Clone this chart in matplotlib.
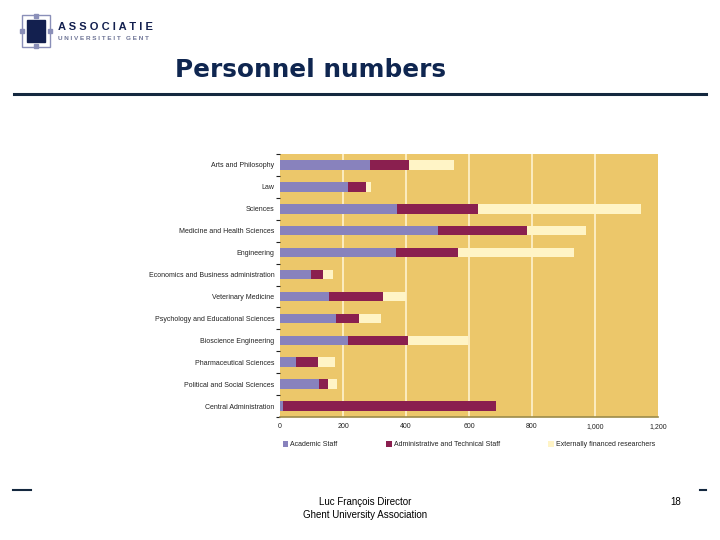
import matplotlib
matplotlib.use("Agg")
import matplotlib.pyplot as plt
from matplotlib.patches import Rectangle
from matplotlib.lines import Line2D
from matplotlib.ticker import FuncFormatter

# faculties, top to bottom
faculties = ["Arts and Philosophy", "Law", "Sciences", "Medicine and Health Sciences",
             "Engineering", "Economics and Business administration", "Veterinary Medicine",
             "Psychology and Educational Sciences", "Bioscience Engineering",
             "Pharmaceutical Sciences", "Political and Social Sciences", "Central Administration"]
academic = [285, 215, 370, 503, 367, 98, 157, 179, 217, 52, 125, 11]
admin_tech = [123, 57, 260, 282, 197, 38, 171, 73, 190, 70, 28, 674]
external = [143, 16, 516, 187, 370, 32, 72, 69, 190, 54, 29, 0]
series_names = ["Academic Staff", "Administrative and Technical Staff", "Externally financed researchers"]
xticks = [0, 200, 400, 600, 800, 1000, 1200]

c_acad = "#8882bd"
c_admin = "#8a1f4f"
c_ext = "#fff4c6"
c_bg = "#ecc76a"
navy = "#0f2650"

plt.rcParams['font.family'] = ['Liberation Sans', 'DejaVu Sans']
fig = plt.figure(figsize=(7.2, 5.4), dpi=100)

# chart
ax = fig.add_axes([280/720, 1 - 417/540, 378/720, 263/540])
ax.set_facecolor(c_bg)
y = list(range(len(faculties)))
left2 = [a + b for a, b in zip(academic, admin_tech)]
h = 0.43
ax.barh(y, academic, height=h, color=c_acad, label=series_names[0], zorder=3)
ax.barh(y, admin_tech, left=academic, height=h, color=c_admin, label=series_names[1], zorder=3)
ax.barh(y, external, left=left2, height=h, color=c_ext, label=series_names[2], zorder=3)
ax.set_ylim(len(faculties) - 0.5, -0.5)
ax.set_xlim(0, 1200)
ax.set_xticks(xticks)
ax.xaxis.set_major_formatter(FuncFormatter(lambda v, p: f"{int(v):,}"))
for v in xticks[1:-1]:
    ax.axvline(v, color="#fff3cf", linewidth=1.2, zorder=1)
ax.set_yticks(y)
ax.set_yticklabels(faculties, fontsize=5, color="#222222")
ax.set_yticks([k + 0.5 for k in range(-1, len(faculties))], minor=True)
ax.tick_params(axis="y", which="major", length=0, pad=4)
ax.tick_params(axis="y", which="minor", length=3, width=0.8, color="#222222")
ax.tick_params(axis="x", length=0, labelsize=5, pad=4, labelcolor="#222222")
for s in ["top", "right", "left"]:
    ax.spines[s].set_visible(False)
ax.spines["bottom"].set_color("#9c8b4a")
ax.spines["bottom"].set_linewidth(1.2)
leg = ax.legend(loc="lower left", bbox_to_anchor=(0, -0.13, 1, 0.05), mode="expand", ncol=3,
                frameon=False, fontsize=5, handlelength=0.8, handleheight=0.8,
                handletextpad=0.3, borderaxespad=0)
for t in leg.get_texts():
    t.set_color("#222222")

# slide decorations
fig.text(175/720, 1 - 70/540, "Personnel numbers", fontsize=17.8, fontweight="bold",
         color=navy, va="center", ha="left", family="DejaVu Sans")
fig.add_artist(Line2D([14/720, 706/720], [1 - 93.5/540] * 2, color="#14283f", linewidth=2.2))

# logo
fig.add_artist(Rectangle((22/720, 1 - 47/540), 28/720, 32/540, fill=False,
                         edgecolor="#8a8fb8", linewidth=1.0))
fig.add_artist(Rectangle((27/720, 1 - 42/540), 18/720, 22/540, color="#13204f"))
for px, py in [(36, 16), (36, 46), (22, 31), (50, 31)]:
    fig.add_artist(Rectangle(((px - 2)/720, 1 - (py + 2)/540), 4/720, 4/540, color="#8a8fb8"))
fig.text(58/720, 1 - 27/540, "A S S O C I A T I E", fontsize=8, fontweight="bold",
         color="#13204f", va="center")
fig.text(58/720, 1 - 38.5/540, "U N I V E R S I T E I T   G E N T", fontsize=4.6, fontweight="bold",
         color="#6f7596", va="center")

# footer
fig.text(365/720, 1 - 502/540, "Luc François Director", fontsize=7, ha="center", va="center")
fig.text(365/720, 1 - 515/540, "Ghent University Association", fontsize=7, ha="center", va="center")
fig.text(676/720, 1 - 502/540, "18", fontsize=7, ha="center", va="center")
fig.add_artist(Line2D([13/720, 31/720], [1 - 490/540] * 2, color="#14283f", linewidth=1.5))
fig.add_artist(Line2D([700/720, 706/720], [1 - 490/540] * 2, color="#14283f", linewidth=1.5))

fig.savefig("out.png", dpi=100)
